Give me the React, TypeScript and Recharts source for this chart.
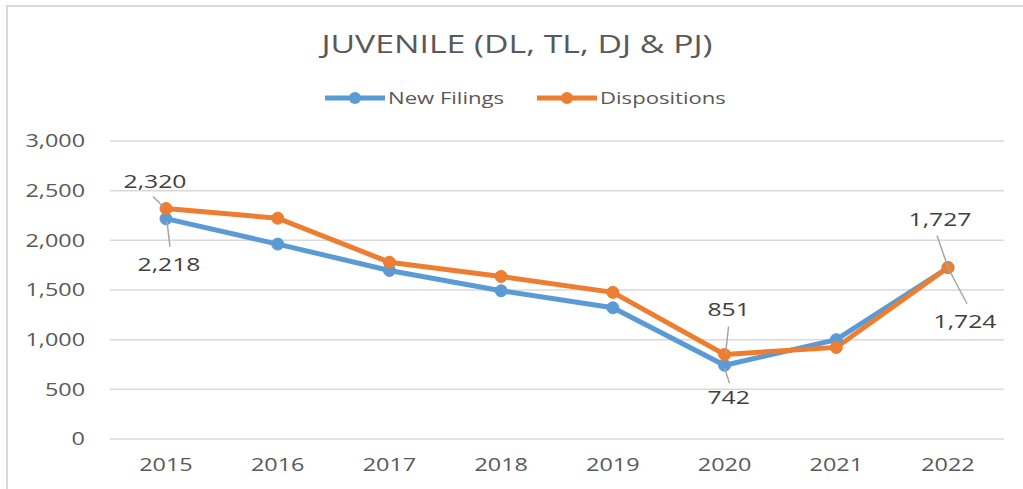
import React from "react";
import { LineChart, Line, XAxis, YAxis, CartesianGrid, LabelList } from "recharts";

const years = ["2015", "2016", "2017", "2018", "2019", "2020", "2021", "2022"];
const newFilings = [2218, 1962, 1697, 1492, 1321, 742, 1000, 1724];
const dispositions = [2320, 2223, 1780, 1636, 1476, 851, 922, 1727];
const yTicks = [0, 500, 1000, 1500, 2000, 2500, 3000];
const title = "JUVENILE (DL, TL, DJ & PJ)";
const seriesNames = ["New Filings", "Dispositions"];

const BLUE = "#5B9BD5";
const ORANGE = "#ED7D31";
const TEXT = "#595959";
const FONT = "'Open Sans', sans-serif";
const SX = 1.3;

const data = years.map((y, i) => ({ year: y, nf: newFilings[i], disp: dispositions[i] }));

const fmt = (v: number) => v.toLocaleString("en-US");

type Spec = { tx: number; ty: number; l: [number, number, number, number] };
const nfLabels: Record<number, Spec> = {
  0: { tx: 3, ty: 46, l: [1, 3, 4, 28] },
  5: { tx: 4, ty: 32, l: [0, 3, 5, 18] },
  7: { tx: 17, ty: 54, l: [0, 0, 19, 36] },
};
const dispLabels: Record<number, Spec> = {
  0: { tx: -11, ty: -27, l: [-13, -12, -3, -2] },
  5: { tx: 4, ty: -45, l: [4, -28, 1, -1] },
  7: { tx: -8, ty: -48, l: [-11, -32, 0, 0] },
};

const makeLabel = (specs: Record<number, Spec>) => (props: any) => {
  const { x, y, value, index } = props;
  const s = specs[index];
  if (!s) return null;
  return (
    <g>
      <line x1={x + s.l[0]} y1={y + s.l[1]} x2={x + s.l[2]} y2={y + s.l[3]} stroke="#a6a6a6" strokeWidth={1.5} />
      <g transform={`translate(${x + s.tx},${y + s.ty})`}>
        <text transform={`scale(${SX},1)`} textAnchor="middle" dy="0.35em" fontFamily={FONT} fontSize={19} fill="#404040">
          {fmt(value)}
        </text>
      </g>
    </g>
  );
};

const YTick = (props: any) => {
  const { x, y, payload } = props;
  return (
    <g transform={`translate(${x},${y})`}>
      <text transform={`scale(${SX},1)`} textAnchor="end" dy="0.35em" fontFamily={FONT} fontSize={18} fill={TEXT}>
        {fmt(payload.value)}
      </text>
    </g>
  );
};

const XTick = (props: any) => {
  const { x, y, payload } = props;
  return (
    <g transform={`translate(${x},${y})`}>
      <text transform={`scale(${SX},1)`} textAnchor="middle" dy="0.35em" fontFamily={FONT} fontSize={18} fill={TEXT}>
        {payload.value}
      </text>
    </g>
  );
};

export default function App() {
  return (
    <div style={{ position: "absolute", left: 0, top: 0, width: 1023, height: 489, background: "#fff", overflow: "hidden" }}>
      <div style={{ position: "absolute", left: 6, top: 5, width: 1100, height: 600, border: "2px solid #d9d9d9", boxSizing: "border-box" }} />
      <div style={{ position: "absolute", left: 0, top: 0 }}>
        <LineChart width={1023} height={489} data={data} margin={{ top: 141, right: 19, bottom: 0, left: 0 }}>
          <CartesianGrid vertical={false} stroke="#d9d9d9" strokeWidth={1.5} />
          <XAxis
            dataKey="year"
            height={50}
            axisLine={false}
            tickLine={false}
            tickSize={0}
            tickMargin={26}
            padding={{ left: 56, right: 56 }}
            tick={<XTick />}
            interval={0}
          />
          <YAxis
            width={110}
            domain={[0, 3000]}
            ticks={yTicks}
            axisLine={false}
            tickLine={false}
            tickSize={0}
            tickMargin={25}
            tick={<YTick />}
            interval={0}
          />
          <Line
            dataKey="nf"
            name={seriesNames[0]}
            stroke={BLUE}
            strokeWidth={5}
            dot={{ r: 6, fill: BLUE, stroke: BLUE, strokeWidth: 1 }}
            isAnimationActive={false}
          >
            <LabelList dataKey="nf" content={makeLabel(nfLabels)} />
          </Line>
          <Line
            dataKey="disp"
            name={seriesNames[1]}
            stroke={ORANGE}
            strokeWidth={5}
            dot={{ r: 6, fill: ORANGE, stroke: ORANGE, strokeWidth: 1 }}
            isAnimationActive={false}
          >
            <LabelList dataKey="disp" content={makeLabel(dispLabels)} />
          </Line>
        </LineChart>
      </div>
      <svg width={1023} height={130} style={{ position: "absolute", left: 0, top: 0 }}>
        <g transform="translate(517,53)">
          <text transform={`scale(${SX},1)`} textAnchor="middle" fontFamily={FONT} fontSize={26} fill={TEXT}>
            {title}
          </text>
        </g>
        <line x1={325} y1={98} x2={385} y2={98} stroke={BLUE} strokeWidth={5} />
        <circle cx={355} cy={98} r={6} fill={BLUE} />
        <g transform="translate(388,98)">
          <text transform={`scale(${SX},1)`} dy="0.35em" fontFamily={FONT} fontSize={17} fill={TEXT}>
            {seriesNames[0]}
          </text>
        </g>
        <line x1={537} y1={98} x2={597} y2={98} stroke={ORANGE} strokeWidth={5} />
        <circle cx={567} cy={98} r={6} fill={ORANGE} />
        <g transform="translate(600,98)">
          <text transform={`scale(${SX},1)`} dy="0.35em" fontFamily={FONT} fontSize={17} fill={TEXT}>
            {seriesNames[1]}
          </text>
        </g>
      </svg>
    </div>
  );
}
